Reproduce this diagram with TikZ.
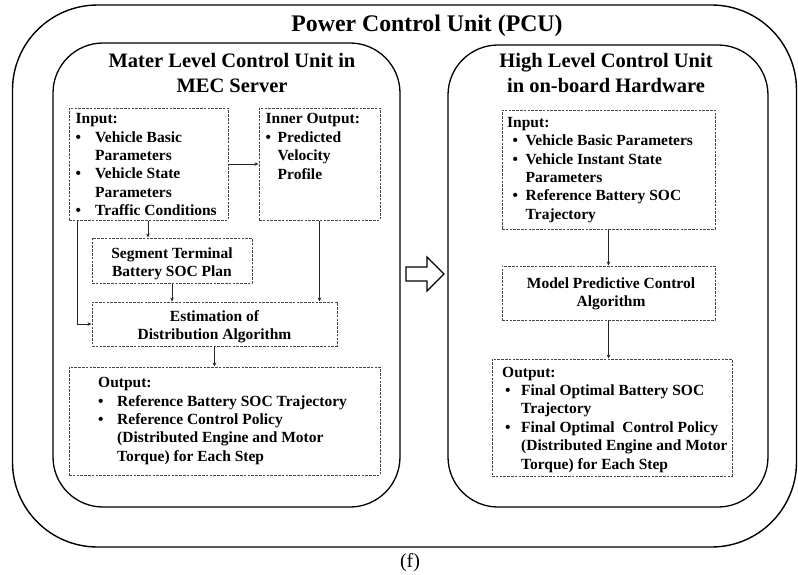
\documentclass[tikz,border=0pt]{standalone}
\usepackage{fontspec}
\setmainfont{Liberation Serif}
\usetikzlibrary{arrows.meta,calc}

% bullet cell and empty cell of the same width, so list lines line up
\newcommand{\bitem}[1]{\makebox[#1][l]{•}}
\newcommand{\bcont}[1]{\makebox[#1][l]{}}

\begin{document}
\begin{tikzpicture}[x=1pt,y=-1pt,
  frame/.style={draw=black, line width=1.4pt, rounded corners=#1, inner sep=0pt},
  dbox/.style={draw=black!72, dash pattern=on 2.6pt off 1.2pt, line width=1pt, inner sep=0pt},
  body/.style={font=\fontsize{15.5}{18.4}\selectfont\bfseries, inner sep=0pt, align=left, anchor=north west},
  tbody/.style={font=\fontsize{15.5}{18.4}\selectfont\bfseries, inner sep=0pt, anchor=north west},
  cbody/.style={font=\fontsize{15.5}{18.4}\selectfont\bfseries, inner sep=0pt, align=center, anchor=north},
  head/.style={font=\fontsize{20.5}{24.5}\selectfont\bfseries, inner sep=0pt, align=center, anchor=north},
  arr/.style={draw=black!85, line width=0.8pt, -{Stealth[length=4pt,width=3.6pt]}}
]
\useasboundingbox (0,0) rectangle (798,574);
\fill[white] (0,0) rectangle (798,574);

% outer power control unit frame
\node[frame=85pt, minimum width=784pt, minimum height=542pt] (pcu) at (404.5,276) {};
\node[font=\fontsize{23.8}{28}\selectfont\bfseries, inner sep=0pt, anchor=north] (pcut) at (427,15) {Power Control Unit (PCU)};

% master level unit (MEC server)
\node[frame=50pt, line width=1.3pt, minimum width=347pt, minimum height=464pt] (mlu) at (226.5,275) {};
\node[head] (mlut) at (232,53.5) {Mater Level Control Unit in\\MEC Server};

% high level unit (on-board hardware)
\node[frame=50pt, line width=1.3pt, minimum width=320pt, minimum height=462pt] (hlu) at (608,276) {};
\node[head] (hlut) at (606,53.5) {High Level Control Unit\\in on-board Hardware};

% dashed boxes of the master level unit
\node[dbox, minimum width=159pt, minimum height=112pt] (inL) at (148.5,164) {};
\node[dbox, minimum width=121pt, minimum height=112pt] (inO) at (319.5,164) {};
\node[dbox, minimum width=160pt, minimum height=45pt] (seg) at (172,260.5) {};
\node[dbox, minimum width=245pt, minimum height=44pt] (est) at (214.5,324) {};
\node[dbox, minimum width=311pt, minimum height=108pt] (outL) at (224.5,421) {};

\node[body] (inLt) at (75.5,113.3) {Input:\\
\bitem{19.5pt}Vehicle Basic\\
\bcont{19.5pt}Parameters\\
\bitem{19.5pt}Vehicle State\\
\bcont{19.5pt}Parameters\\
\bitem{19.5pt}Traffic Conditions};

\node[body] (inOt) at (265.5,113.5) {Inner Output:\\
\bitem{12pt}Predicted\\
\bcont{12pt}Velocity\\
\bcont{12pt}Profile};

\node[cbody] (segt) at (172,247.4) {Segment Terminal\\Battery SOC Plan};
\node[cbody] (estt) at (214.5,310.4) {Estimation of\\Distribution Algorithm};

\node[body] (outLt) at (98,377.2) {Output:\\
\bitem{19pt}Reference Battery SOC Trajectory\\
\bitem{19pt}Reference Control Policy\\
\bcont{19pt}(Distributed Engine and Motor\\
\bcont{19pt}Torque) for Each Step};

% dashed boxes of the high level unit
\node[dbox, minimum width=213pt, minimum height=119pt] (rIn) at (608.5,169.5) {};
\node[dbox, minimum width=213pt, minimum height=54pt] (mpc) at (608.5,293) {};
\node[dbox, minimum width=240pt, minimum height=117pt] (rOut) at (612,417.5) {};

\node[tbody] (rInt) at (507,114.3) {\begin{tabular}{@{\hspace{5.5pt}}p{13pt}@{}l@{}}
\multicolumn{2}{@{}l@{}}{Input:}\\
• & Vehicle Basic Parameters\\
• & Vehicle Instant State\\
  & Parameters\\
• & Reference Battery SOC\\
  & Trajectory
\end{tabular}};

\node[cbody] (mpct) at (611,277.4) {Model Predictive Control\\Algorithm};

\node[body] (rOutt) at (502,366.7) {Output:\\
\bcont{3pt}\bitem{16pt}Final Optimal Battery SOC\\
\bcont{3pt}\bcont{16pt}Trajectory\\
\bcont{3pt}\bitem{16pt}Final Optimal~ Control Policy\\
\bcont{3pt}\bcont{16pt}(Distributed Engine and Motor\\
\bcont{3pt}\bcont{16pt}Torque) for Each Step};

% connectors
\coordinate (xa) at (148,0);
\coordinate (xb) at (77,0);
\draw[arr] (inL.east) -- (inO.west);
\draw[arr] (inL.south -| xa) -- (seg.north -| xa);
\draw[arr] (seg.south) -- (seg.south |- est.north);
\draw[arr] (inO.south) -- (inO.south |- est.north);
\draw[arr] (inL.south -| xb) |- (est.west);
\draw[arr] (est.south) -- (est.south |- outL.north);
\draw[arr] (rIn.south) -- (mpc.north);
\draw[arr] (mpc.south) -- (mpc.south |- rOut.north);

% hollow block arrow from the master unit to the high level unit
\draw[line width=1.2pt, fill=white, line join=miter]
  (406,267) -- (427,267) -- (427,257) -- (444,274) -- (427,291) -- (427,281) -- (406,281) -- cycle;

\node[font=\fontsize{20}{24}\selectfont, inner sep=0pt] (cap) at (410,563) {(f)};
\end{tikzpicture}
\end{document}
